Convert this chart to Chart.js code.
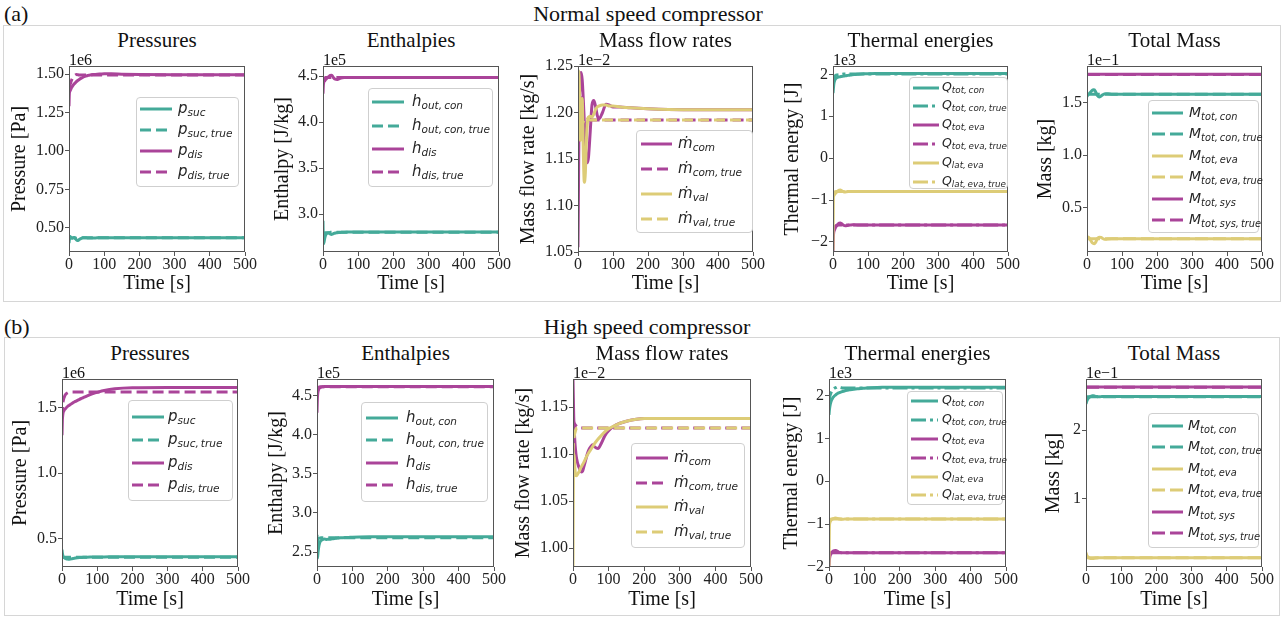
<!DOCTYPE html>
<html><head><meta charset="utf-8">
<script src="https://cdn.jsdelivr.net/npm/chart.js@4.4.1/dist/chart.umd.min.js"></script>
<style>
html,body{margin:0;padding:0;background:#fff;}
body{width:1284px;height:618px;position:relative;overflow:hidden;font-family:"Liberation Serif","Times New Roman",serif;color:#111;}
.abs{position:absolute;white-space:nowrap;}
.ctr{transform:translate(-50%,-50%);}
.vc{transform:translateY(-50%);}
.rowbox{position:absolute;border:1px solid #d6d6d6;box-sizing:border-box;}
.leg{position:absolute;border:1px solid #cfcfcf;border-radius:4px;background:rgba(255,255,255,0.85);box-sizing:border-box;}
.lt{position:absolute;white-space:nowrap;font-family:"DejaVu Sans",sans-serif;font-style:italic;color:#262626;line-height:1;transform:translateY(-50%);}
.lt sub{font-size:0.7em;vertical-align:-0.3em;word-spacing:-0.12em;}
canvas{position:absolute;}
</style></head><body>
<script>
// ---------------- DATA ----------------
const time = [0,1,2,3,5,7,9,12,15,18,21,24,27,30,35,40,45,50,55,60,70,80,90,100,120,150,200,300,400,500];
const xTickLabels = ['0','100','200','300','400','500'];

// (a) Normal speed compressor
const pSucA     = [0.400,0.425,0.440,0.443,0.440,0.436,0.433,0.435,0.437,0.430,0.422,0.418,0.420,0.426,0.432,0.436,0.436,0.435,0.434,0.434,0.434,0.435,0.435,0.435,0.435,0.435,0.435,0.435,0.435,0.435];
const pSucTrueA = [0.420,0.438,0.442,0.440,0.437,0.435,0.434,0.435,0.435,0.434,0.433,0.433,0.434,0.435,0.435,0.435,0.435,0.435,0.435,0.435,0.435,0.435,0.435,0.435,0.435,0.435,0.435,0.435,0.435,0.435];
const pDisA     = [1.290,1.370,1.385,1.390,1.400,1.410,1.418,1.428,1.436,1.443,1.450,1.456,1.461,1.466,1.473,1.479,1.484,1.488,1.491,1.494,1.497,1.499,1.500,1.501,1.501,1.499,1.497,1.495,1.495,1.495];
const pDisTrueA = [1.400,1.410,1.420,1.430,1.445,1.458,1.468,1.480,1.488,1.494,1.497,1.496,1.494,1.493,1.493,1.493,1.493,1.493,1.493,1.493,1.493,1.493,1.493,1.493,1.493,1.493,1.493,1.493,1.493,1.493];

const hOutA     = [2.930,2.700,2.680,2.700,2.740,2.770,2.785,2.795,2.800,2.795,2.785,2.780,2.785,2.790,2.797,2.800,2.802,2.803,2.804,2.805,2.806,2.806,2.806,2.806,2.806,2.806,2.806,2.806,2.806,2.806];
const hOutTrueA = [2.760,2.770,2.780,2.790,2.800,2.800,2.800,2.800,2.800,2.800,2.805,2.805,2.805,2.805,2.805,2.805,2.805,2.805,2.805,2.805,2.805,2.805,2.805,2.805,2.805,2.805,2.805,2.805,2.805,2.805];
const hDisA     = [4.310,4.400,4.430,4.440,4.450,4.460,4.470,4.480,4.490,4.500,4.508,4.510,4.500,4.482,4.466,4.463,4.470,4.478,4.482,4.484,4.485,4.485,4.485,4.485,4.485,4.485,4.485,4.485,4.485,4.485];
const hDisTrueA = [4.440,4.460,4.470,4.475,4.480,4.485,4.485,4.485,4.485,4.485,4.485,4.485,4.485,4.485,4.485,4.485,4.485,4.485,4.485,4.485,4.485,4.485,4.485,4.485,4.485,4.485,4.485,4.485,4.485,4.485];

const mComA     = [1.055,1.100,1.150,1.190,1.225,1.240,1.243,1.235,1.215,1.190,1.165,1.150,1.146,1.152,1.180,1.208,1.213,1.207,1.197,1.193,1.200,1.209,1.208,1.206,1.206,1.205,1.204,1.203,1.203,1.203];
const mComTrueA = [1.200,1.225,1.240,1.243,1.235,1.220,1.205,1.195,1.190,1.190,1.192,1.192,1.192,1.192,1.192,1.192,1.192,1.192,1.192,1.192,1.192,1.192,1.192,1.192,1.192,1.192,1.192,1.192,1.192,1.192];
const mValA     = [1.210,1.235,1.245,1.240,1.215,1.170,1.200,1.215,1.160,1.125,1.135,1.170,1.190,1.195,1.196,1.195,1.198,1.203,1.206,1.207,1.208,1.208,1.207,1.207,1.206,1.205,1.204,1.203,1.203,1.203];
const mValTrueA = [1.180,1.190,1.200,1.205,1.200,1.195,1.190,1.188,1.190,1.192,1.194,1.195,1.194,1.193,1.192,1.192,1.192,1.192,1.192,1.192,1.192,1.192,1.192,1.192,1.192,1.192,1.192,1.192,1.192,1.192];

const qConA     = [1.550,1.650,1.740,1.800,1.860,1.890,1.910,1.925,1.935,1.940,1.945,1.950,1.955,1.960,1.965,1.972,1.978,1.984,1.990,1.995,2.003,2.010,2.014,2.017,2.020,2.020,2.020,2.020,2.020,2.020];
const qConTrueA = [1.700,1.800,1.870,1.910,1.950,1.970,1.980,1.985,1.990,1.993,1.996,1.998,2.000,2.010,2.010,2.010,2.010,2.010,2.010,2.010,2.010,2.010,2.010,2.010,2.010,2.010,2.010,2.010,2.010,2.010];
const qEvaA     = [-2.240,-1.900,-1.780,-1.740,-1.700,-1.660,-1.630,-1.600,-1.570,-1.550,-1.545,-1.560,-1.580,-1.600,-1.615,-1.610,-1.600,-1.595,-1.590,-1.590,-1.595,-1.595,-1.595,-1.595,-1.595,-1.595,-1.595,-1.595,-1.595,-1.595];
const qEvaTrueA = [-1.800,-1.750,-1.700,-1.670,-1.640,-1.620,-1.610,-1.600,-1.595,-1.595,-1.595,-1.595,-1.595,-1.595,-1.595,-1.595,-1.595,-1.595,-1.595,-1.595,-1.595,-1.595,-1.595,-1.595,-1.595,-1.595,-1.595,-1.595,-1.595,-1.595];
const qLatA     = [-2.200,-0.950,-0.900,-0.880,-0.860,-0.840,-0.820,-0.800,-0.780,-0.765,-0.760,-0.770,-0.790,-0.800,-0.805,-0.800,-0.795,-0.795,-0.795,-0.795,-0.795,-0.795,-0.795,-0.795,-0.795,-0.795,-0.795,-0.795,-0.795,-0.795];
const qLatTrueA = [-0.920,-0.880,-0.850,-0.830,-0.810,-0.800,-0.795,-0.795,-0.795,-0.795,-0.795,-0.795,-0.795,-0.795,-0.795,-0.795,-0.795,-0.795,-0.795,-0.795,-0.795,-0.795,-0.795,-0.795,-0.795,-0.795,-0.795,-0.795,-0.795,-0.795];

const mConA     = [1.560,1.570,1.575,1.580,1.585,1.590,1.600,1.610,1.620,1.627,1.625,1.610,1.590,1.570,1.557,1.565,1.578,1.587,1.589,1.587,1.584,1.583,1.583,1.583,1.583,1.583,1.583,1.583,1.583,1.583];
const mConTrueA = [1.575,1.578,1.580,1.582,1.583,1.583,1.583,1.583,1.583,1.583,1.583,1.583,1.583,1.583,1.583,1.583,1.583,1.583,1.583,1.583,1.583,1.583,1.583,1.583,1.583,1.583,1.583,1.583,1.583,1.583];
const mEvaA     = [0.210,0.215,0.220,0.220,0.215,0.205,0.195,0.180,0.165,0.158,0.156,0.165,0.185,0.205,0.218,0.215,0.205,0.198,0.198,0.201,0.203,0.203,0.203,0.203,0.203,0.203,0.203,0.203,0.203,0.203];
const mEvaTrueA = [0.205,0.204,0.203,0.203,0.203,0.203,0.203,0.203,0.203,0.203,0.203,0.203,0.203,0.203,0.203,0.203,0.203,0.203,0.203,0.203,0.203,0.203,0.203,0.203,0.203,0.203,0.203,0.203,0.203,0.203];
const mSysA     = [1.774,1.774,1.774,1.774,1.774,1.774,1.774,1.774,1.774,1.774,1.774,1.774,1.774,1.774,1.774,1.774,1.774,1.774,1.774,1.774,1.774,1.774,1.774,1.774,1.774,1.774,1.774,1.774,1.774,1.774];
const mSysTrueA = [1.772,1.772,1.772,1.772,1.772,1.772,1.772,1.772,1.772,1.772,1.772,1.772,1.772,1.772,1.772,1.772,1.772,1.772,1.772,1.772,1.772,1.772,1.772,1.772,1.772,1.772,1.772,1.772,1.772,1.772];

// (b) High speed compressor
const pSucB     = [0.416,0.390,0.375,0.365,0.358,0.352,0.349,0.346,0.344,0.343,0.343,0.344,0.345,0.347,0.350,0.352,0.354,0.355,0.356,0.357,0.358,0.359,0.360,0.360,0.360,0.361,0.361,0.361,0.361,0.361];
const pSucTrueB = [0.380,0.370,0.362,0.358,0.358,0.358,0.358,0.358,0.358,0.358,0.358,0.358,0.358,0.358,0.358,0.358,0.358,0.358,0.358,0.358,0.358,0.358,0.358,0.358,0.358,0.358,0.358,0.358,0.358,0.358];
const pDisB     = [1.290,1.400,1.440,1.460,1.475,1.485,1.490,1.500,1.508,1.515,1.520,1.526,1.531,1.536,1.544,1.551,1.558,1.565,1.571,1.577,1.589,1.600,1.610,1.618,1.632,1.645,1.653,1.655,1.655,1.655];
const pDisTrueB = [1.420,1.480,1.520,1.545,1.570,1.585,1.597,1.607,1.613,1.617,1.619,1.620,1.620,1.620,1.620,1.620,1.620,1.620,1.620,1.620,1.620,1.620,1.620,1.620,1.620,1.620,1.620,1.620,1.620,1.620];

const hOutB     = [2.720,2.420,2.450,2.500,2.570,2.610,2.635,2.650,2.660,2.665,2.668,2.665,2.662,2.663,2.665,2.668,2.672,2.675,2.677,2.680,2.683,2.686,2.688,2.690,2.693,2.695,2.696,2.696,2.696,2.696];
const hOutTrueB = [2.600,2.640,2.660,2.670,2.675,2.678,2.680,2.682,2.683,2.683,2.683,2.683,2.683,2.683,2.683,2.683,2.683,2.683,2.683,2.683,2.683,2.683,2.683,2.683,2.683,2.683,2.683,2.683,2.683,2.683];
const hDisB     = [4.280,4.450,4.520,4.550,4.580,4.595,4.600,4.607,4.610,4.612,4.613,4.613,4.613,4.613,4.613,4.613,4.613,4.613,4.613,4.613,4.613,4.613,4.613,4.613,4.613,4.613,4.613,4.613,4.613,4.613];
const hDisTrueB = [4.550,4.580,4.590,4.600,4.605,4.610,4.612,4.612,4.612,4.612,4.612,4.612,4.612,4.612,4.612,4.612,4.612,4.612,4.612,4.612,4.612,4.612,4.612,4.612,4.612,4.612,4.612,4.612,4.612,4.612];

const mComB     = [1.180,1.160,1.140,1.130,1.115,1.105,1.098,1.092,1.088,1.085,1.082,1.081,1.082,1.086,1.093,1.100,1.105,1.108,1.110,1.108,1.106,1.112,1.120,1.125,1.131,1.135,1.138,1.138,1.138,1.138];
const mComTrueB = [1.140,1.136,1.134,1.133,1.132,1.131,1.130,1.129,1.128,1.128,1.128,1.128,1.128,1.128,1.128,1.128,1.128,1.128,1.128,1.128,1.128,1.128,1.128,1.128,1.128,1.128,1.128,1.128,1.128,1.128];
const mValB     = [0.980,1.075,1.090,1.100,1.088,1.078,1.077,1.078,1.080,1.082,1.085,1.087,1.089,1.091,1.095,1.099,1.102,1.105,1.108,1.111,1.116,1.120,1.124,1.127,1.131,1.135,1.138,1.138,1.138,1.138];
const mValTrueB = [1.100,1.110,1.115,1.118,1.122,1.125,1.127,1.128,1.128,1.128,1.128,1.128,1.128,1.128,1.128,1.128,1.128,1.128,1.128,1.128,1.128,1.128,1.128,1.128,1.128,1.128,1.128,1.128,1.128,1.128];

const qConB     = [1.550,1.650,1.720,1.770,1.840,1.890,1.920,1.960,1.990,2.010,2.030,2.045,2.060,2.070,2.085,2.100,2.110,2.120,2.130,2.135,2.145,2.155,2.165,2.170,2.180,2.190,2.195,2.195,2.195,2.195];
const qConTrueB = [1.750,1.880,1.950,2.000,2.050,2.090,2.120,2.150,2.170,2.180,2.190,2.200,2.200,2.190,2.180,2.175,2.175,2.175,2.175,2.175,2.175,2.175,2.175,2.175,2.175,2.175,2.175,2.175,2.175,2.175];
const qEvaB     = [-2.000,-1.850,-1.780,-1.740,-1.700,-1.670,-1.650,-1.630,-1.620,-1.615,-1.620,-1.635,-1.650,-1.660,-1.668,-1.665,-1.665,-1.665,-1.665,-1.665,-1.665,-1.665,-1.665,-1.665,-1.665,-1.665,-1.665,-1.665,-1.665,-1.665];
const qEvaTrueB = [-1.750,-1.710,-1.690,-1.680,-1.672,-1.668,-1.668,-1.668,-1.668,-1.668,-1.668,-1.668,-1.668,-1.668,-1.668,-1.668,-1.668,-1.668,-1.668,-1.668,-1.668,-1.668,-1.668,-1.668,-1.668,-1.668,-1.668,-1.668,-1.668,-1.668];
const qLatB     = [-2.000,-1.100,-0.980,-0.950,-0.920,-0.900,-0.885,-0.870,-0.865,-0.860,-0.862,-0.868,-0.875,-0.880,-0.885,-0.885,-0.882,-0.882,-0.882,-0.882,-0.882,-0.882,-0.882,-0.882,-0.882,-0.882,-0.882,-0.882,-0.882,-0.882];
const qLatTrueB = [-0.950,-0.920,-0.900,-0.890,-0.885,-0.883,-0.883,-0.883,-0.883,-0.883,-0.883,-0.883,-0.883,-0.883,-0.883,-0.883,-0.883,-0.883,-0.883,-0.883,-0.883,-0.883,-0.883,-0.883,-0.883,-0.883,-0.883,-0.883,-0.883,-0.883];

const mConB     = [2.380,2.400,2.420,2.430,2.450,2.465,2.475,2.485,2.495,2.500,2.500,2.495,2.490,2.487,2.485,2.485,2.487,2.487,2.487,2.487,2.487,2.487,2.487,2.487,2.487,2.487,2.487,2.487,2.487,2.487];
const mConTrueB = [2.460,2.470,2.480,2.483,2.483,2.483,2.483,2.483,2.483,2.483,2.483,2.483,2.483,2.483,2.483,2.483,2.483,2.483,2.483,2.483,2.483,2.483,2.483,2.483,2.483,2.483,2.483,2.483,2.483,2.483];
const mEvaB     = [0.220,0.200,0.185,0.175,0.160,0.150,0.140,0.135,0.132,0.132,0.134,0.137,0.140,0.142,0.144,0.145,0.146,0.146,0.146,0.146,0.146,0.146,0.146,0.146,0.146,0.146,0.146,0.146,0.146,0.146];
const mEvaTrueB = [0.160,0.155,0.150,0.146,0.146,0.146,0.146,0.146,0.146,0.146,0.146,0.146,0.146,0.146,0.146,0.146,0.146,0.146,0.146,0.146,0.146,0.146,0.146,0.146,0.146,0.146,0.146,0.146,0.146,0.146];
const mSysB     = [2.624,2.624,2.624,2.624,2.624,2.624,2.624,2.624,2.624,2.624,2.624,2.624,2.624,2.624,2.624,2.624,2.624,2.624,2.624,2.624,2.624,2.624,2.624,2.624,2.624,2.624,2.624,2.624,2.624,2.624];
const mSysTrueB = [2.622,2.622,2.622,2.622,2.622,2.622,2.622,2.622,2.622,2.622,2.622,2.622,2.622,2.622,2.622,2.622,2.622,2.622,2.622,2.622,2.622,2.622,2.622,2.622,2.622,2.622,2.622,2.622,2.622,2.622];

// y tick labels per panel
const yTicksPA = ['0.50','0.75','1.00','1.25','1.50'];
const yTicksHA = ['3.0','3.5','4.0','4.5'];
const yTicksMA = ['1.05','1.10','1.15','1.20','1.25'];
const yTicksQA = ['\u22122','\u22121','0','1','2'];
const yTicksTA = ['0.5','1.0','1.5'];
const yTicksPB = ['0.5','1.0','1.5'];
const yTicksHB = ['2.5','3.0','3.5','4.0','4.5'];
const yTicksMB = ['1.00','1.05','1.10','1.15'];
const yTicksQB = ['\u22122','\u22121','0','1','2'];
const yTicksTB = ['1','2'];

// ---------------- STYLE / LAYOUT ----------------
const TEAL = '#44AA99', PURP = '#AA4499', SAND = '#DDCC77';
const DASH = [11,5], DASHDOT = [15,4,3,4], DASHM = [13,5];

function ser(values, color, dash, main, sub){ return {values, color, dash, main, sub}; }

const rowA = {titleY: 40, offY: 60, xTitleY: 284, t: 66, b: 252};
const rowB = {titleY: 353, offY: 373, xTitleY: 600, t: 379, b: 567};

const panels = [
 {row: rowA, l:69, r:245, yTitleX:20, title:'Pressures', off:'1e6', yTitle:'Pressure [Pa]', yMin:0.343, yMax:1.552, yTicks:yTicksPA,
  leg:{l:136, t:97, w:103, h:90, y0:10.8, dy:21, lx:3, len:32, tx:41, fs:15},
  series:[ser(pSucA,TEAL,null,'p','suc'), ser(pSucTrueA,TEAL,DASH,'p','suc, true'), ser(pDisA,PURP,null,'p','dis'), ser(pDisTrueA,PURP,DASH,'p','dis, true')]},
 {row: rowA, l:323, r:499, yTitleX:282.5, title:'Enthalpies', off:'1e5', yTitle:'Enthalpy [J/kg]', yMin:2.59, yMax:4.61, yTicks:yTicksHA,
  leg:{l:368, t:88, w:125, h:99, y0:13.3, dy:23.2, lx:3, len:32, tx:43, fs:15},
  series:[ser(hOutA,TEAL,null,'h','out, con'), ser(hOutTrueA,TEAL,DASH,'h','out, con, true'), ser(hDisA,PURP,null,'h','dis'), ser(hDisTrueA,PURP,DASH,'h','dis, true')]},
 {row: rowA, l:578, r:753, yTitleX:529, title:'Mass flow rates', off:'1e\u22122', yTitle:'Mass flow rate [kg/s]', yMin:1.05, yMax:1.25, yTicks:yTicksMA,
  leg:{l:636, t:130, w:117, h:103, y0:12.7, dy:25, lx:4, len:31, tx:41, fs:15},
  series:[ser(mComA,PURP,null,'\u1E41','com'), ser(mComTrueA,PURP,DASH,'\u1E41','com, true'), ser(mValA,SAND,null,'\u1E41','val'), ser(mValTrueA,SAND,DASH,'\u1E41','val, true')]},
 {row: rowA, l:833, r:1008, yTitleX:793, title:'Thermal energies', off:'1e3', yTitle:'Thermal energy [J]', yMin:-2.24, yMax:2.2, yTicks:yTicksQA,
  leg:{l:909, t:77, w:99, h:112, y0:9.5, dy:18.9, lx:2.5, len:26, tx:32, fs:12.5},
  series:[ser(qConA,TEAL,null,'Q','tot, con'), ser(qConTrueA,TEAL,DASHDOT,'Q','tot, con, true'), ser(qEvaA,PURP,null,'Q','tot, eva'), ser(qEvaTrueA,PURP,DASHDOT,'Q','tot, eva, true'), ser(qLatA,SAND,null,'Q','lat, eva'), ser(qLatTrueA,SAND,DASHDOT,'Q','lat, eva, true')]},
 {row: rowA, l:1087, r:1262, yTitleX:1046, title:'Total Mass', off:'1e\u22121', yTitle:'Mass [kg]', yMin:0.076, yMax:1.853, yTicks:yTicksTA,
  leg:{l:1148, t:100, w:111, h:133, y0:11.7, dy:21.5, lx:3, len:31, tx:40, fs:14},
  series:[ser(mConA,TEAL,null,'M','tot, con'), ser(mConTrueA,TEAL,DASHM,'M','tot, con, true'), ser(mEvaA,SAND,null,'M','tot, eva'), ser(mEvaTrueA,SAND,DASHM,'M','tot, eva, true'), ser(mSysA,PURP,null,'M','tot, sys'), ser(mSysTrueA,PURP,DASHM,'M','tot, sys, true')]},

 {row: rowB, l:62, r:238, yTitleX:21, title:'Pressures', off:'1e6', yTitle:'Pressure [Pa]', yMin:0.283, yMax:1.72, yTicks:yTicksPB,
  leg:{l:128, t:400, w:105, h:101, y0:16, dy:22.8, lx:3, len:32, tx:39, fs:15},
  series:[ser(pSucB,TEAL,null,'p','suc'), ser(pSucTrueB,TEAL,DASH,'p','suc, true'), ser(pDisB,PURP,null,'p','dis'), ser(pDisTrueB,PURP,DASH,'p','dis, true')]},
 {row: rowB, l:317, r:494, yTitleX:277, title:'Enthalpies', off:'1e5', yTitle:'Enthalpy [J/kg]', yMin:2.31, yMax:4.71, yTicks:yTicksHB,
  leg:{l:361, t:402, w:127, h:100, y0:15, dy:22.4, lx:4, len:32, tx:44, fs:15},
  series:[ser(hOutB,TEAL,null,'h','out, con'), ser(hOutTrueB,TEAL,DASH,'h','out, con, true'), ser(hDisB,PURP,null,'h','dis'), ser(hDisTrueB,PURP,DASH,'h','dis, true')]},
 {row: rowB, l:573, r:751, yTitleX:524, title:'Mass flow rates', off:'1e\u22122', yTitle:'Mass flow rate [kg/s]', yMin:0.98, yMax:1.18, yTicks:yTicksMB,
  leg:{l:631, t:443, w:114, h:105, y0:14, dy:24.6, lx:4, len:32, tx:42, fs:15},
  series:[ser(mComB,PURP,null,'\u1E41','com'), ser(mComTrueB,PURP,DASH,'\u1E41','com, true'), ser(mValB,SAND,null,'\u1E41','val'), ser(mValTrueB,SAND,DASH,'\u1E41','val, true')]},
 {row: rowB, l:829, r:1006, yTitleX:791.7, title:'Thermal energies', off:'1e3', yTitle:'Thermal energy [J]', yMin:-2.0, yMax:2.385, yTicks:yTicksQB,
  leg:{l:907, t:391, w:96, h:114, y0:9.3, dy:18.8, lx:2.5, len:27, tx:34, fs:12.5},
  series:[ser(qConB,TEAL,null,'Q','tot, con'), ser(qConTrueB,TEAL,DASHDOT,'Q','tot, con, true'), ser(qEvaB,PURP,null,'Q','tot, eva'), ser(qEvaTrueB,PURP,DASHDOT,'Q','tot, eva, true'), ser(qLatB,SAND,null,'Q','lat, eva'), ser(qLatTrueB,SAND,DASHDOT,'Q','lat, eva, true')]},
 {row: rowB, l:1086, r:1262, yTitleX:1054, title:'Total Mass', off:'1e\u22121', yTitle:'Mass [kg]', yMin:0.01, yMax:2.742, yTicks:yTicksTB,
  leg:{l:1148, t:413, w:111, h:135, y0:11.7, dy:21.5, lx:3, len:31, tx:39, fs:14},
  series:[ser(mConB,TEAL,null,'M','tot, con'), ser(mConTrueB,TEAL,DASHM,'M','tot, con, true'), ser(mEvaB,SAND,null,'M','tot, eva'), ser(mEvaTrueB,SAND,DASHM,'M','tot, eva, true'), ser(mSysB,PURP,null,'M','tot, sys'), ser(mSysTrueB,PURP,DASHM,'M','tot, sys, true')]}
];

// ---------------- RENDER ----------------
const SERIF = '"Liberation Serif","Times New Roman",serif';
function el(html){ const d=document.createElement('div'); d.innerHTML=html; const n=d.firstElementChild; document.body.appendChild(n); return n; }

// row frames and section titles
el('<div class="rowbox" style="left:3px;top:25px;width:1278px;height:277px"></div>');
el('<div class="rowbox" style="left:4px;top:337px;width:1276px;height:279px"></div>');
el('<div class="abs vc" style="left:4px;top:14px;font-size:22px">(a)</div>');
el('<div class="abs ctr" style="left:648px;top:14px;font-size:22px">Normal speed compressor</div>');
el('<div class="abs vc" style="left:4px;top:327px;font-size:22px">(b)</div>');
el('<div class="abs ctr" style="left:647px;top:327px;font-size:22px">High speed compressor</div>');

const framePlugin = {
  id: 'frame',
  afterDatasetsDraw(chart){
    const {ctx, chartArea:a} = chart;
    ctx.save(); ctx.strokeStyle = '#555'; ctx.lineWidth = 1;
    ctx.strokeRect(Math.round(a.left)+0.5, Math.round(a.top)+0.5, Math.round(a.right-a.left)-1, Math.round(a.bottom-a.top)-1);
    ctx.restore();
  }
};

const toNum = s => parseFloat(s.replace('\u2212','-'));

panels.forEach((p, pi) => {
  const R = p.row;
  const cLeft = Math.round(p.yTitleX - 12);
  const cTop = R.t - 12;
  const W = p.r + 20 - cLeft;
  const H = R.xTitleY + 12 - cTop;
  const cv = document.createElement('canvas');
  cv.width = W; cv.height = H;
  cv.style.left = cLeft + 'px'; cv.style.top = cTop + 'px';
  cv.style.width = W + 'px'; cv.style.height = H + 'px';
  document.body.appendChild(cv);

  const yVals = p.yTicks.map(toNum);
  const xVals = xTickLabels.map(toNum);
  const n = p.series.length;
  const tickFont = {family: SERIF, size: 16, lineHeight: 1};
  const titleFont = {family: SERIF, size: 20, lineHeight: 1.2};

  new Chart(cv, {
    type: 'line',
    data: {
      datasets: p.series.map((s, i) => ({
        data: time.map((t, k) => ({x: t, y: s.values[k]})),
        borderColor: s.color, borderWidth: 3, borderDash: s.dash || [],
        pointRadius: 0, fill: false, cubicInterpolationMode: 'monotone',
        borderCapStyle: 'butt', order: n - i
      }))
    },
    options: {
      responsive: false, animation: false, devicePixelRatio: 1, events: [],
      layout: {padding: {left: 0, top: 12, right: 20, bottom: 0}},
      plugins: {legend: {display: false}, tooltip: {enabled: false}},
      scales: {
        x: {
          type: 'linear', min: 0, max: 500,
          afterBuildTicks: sc => { sc.ticks = xVals.map(v => ({value: v})); },
          afterFit: sc => { sc.height = R.xTitleY + 12 - R.b; },
          ticks: {font: tickFont, color: '#222', padding: 1, maxRotation: 0, autoSkip: false,
                  callback: v => xTickLabels[xVals.indexOf(v)]},
          grid: {display: true, drawOnChartArea: false, drawTicks: true, tickLength: 4, color: '#555'},
          border: {display: false},
          title: {display: true, text: 'Time [s]', font: titleFont, color: '#111', padding: 0}
        },
        y: {
          type: 'linear', min: p.yMin, max: p.yMax,
          afterBuildTicks: sc => { sc.ticks = yVals.map(v => ({value: v})); },
          afterFit: sc => { sc.width = p.l - cLeft; },
          ticks: {font: tickFont, color: '#222', padding: 1, autoSkip: false,
                  callback: v => { const i = yVals.findIndex(u => Math.abs(u - v) < 1e-9); return i >= 0 ? p.yTicks[i] : ''; }},
          grid: {display: true, drawOnChartArea: false, drawTicks: true, tickLength: 4, color: '#555'},
          border: {display: false},
          title: {display: true, text: p.yTitle, font: titleFont, color: '#111', padding: 0}
        }
      }
    },
    plugins: [framePlugin]
  });

  // subplot title and offset text
  el(`<div class="abs ctr" style="left:${(p.l+p.r)/2}px;top:${R.titleY}px;font-size:21px">${p.title}</div>`);
  el(`<div class="abs vc" style="left:${p.l}px;top:${R.offY}px;font-size:16px">${p.off}</div>`);

  // legend
  const L = p.leg;
  let inner = '';
  p.series.forEach((s, i) => {
    const y = L.y0 + i * L.dy;
    const da = (s.dash || []).join(',');
    inner += `<svg style="position:absolute;left:${L.lx}px;top:${y-3}px" width="${L.len}" height="6"><line x1="0" y1="3" x2="${L.len}" y2="3" stroke="${s.color}" stroke-width="3" ${da ? `stroke-dasharray="${da}"` : ''}/></svg>`;
    inner += `<div class="lt" style="left:${L.tx}px;top:${y}px;font-size:${L.fs}px">${s.main}<sub>${s.sub}</sub></div>`;
  });
  el(`<div class="leg" style="left:${L.l}px;top:${L.t}px;width:${L.w}px;height:${L.h}px">${inner}</div>`);
});
</script>
</body></html>
